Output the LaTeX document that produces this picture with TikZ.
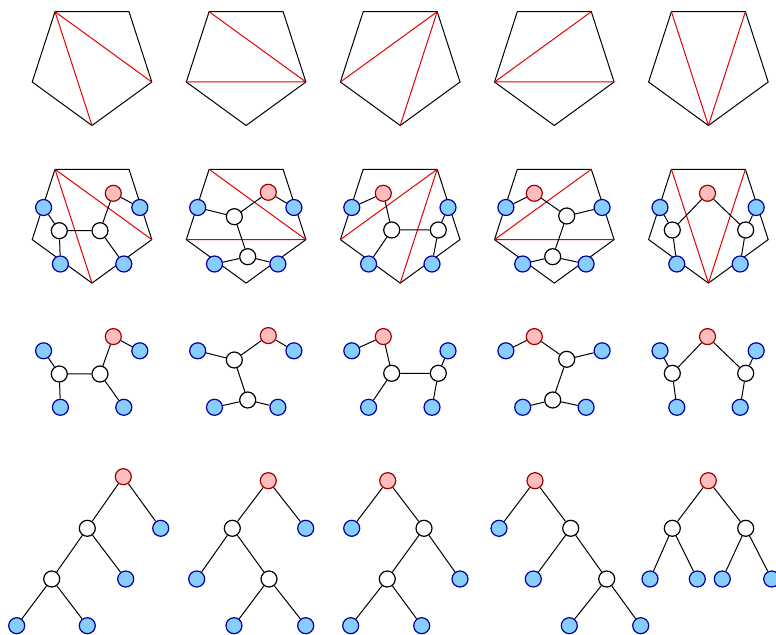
\documentclass[tikz,border=0pt]{standalone}
\usepackage{xcolor}
\usepackage{tikz}
\usetikzlibrary{shapes,arrows,positioning,calc}
\definecolor{leaffill}{RGB}{135,206,255}
\definecolor{leafline}{RGB}{0,0,160}
\definecolor{rootfill}{RGB}{255,190,190}
\definecolor{rootline}{RGB}{160,0,0}
\definecolor{diagline}{RGB}{225,0,0}

\tikzset{
  leafnode/.style={circle,draw=leafline,fill=leaffill,minimum size=8pt,inner sep=0pt,line width=0.6pt},
  rootnode/.style={circle,draw=rootline,fill=rootfill,minimum size=8pt,inner sep=0pt,line width=0.6pt},
  innode/.style={circle,draw=black,fill=white,minimum size=8pt,inner sep=0pt,line width=0.6pt},
  diag/.style={diagline,line width=0.5pt}
}

\begin{document}
\begin{tikzpicture}[x=0.5pt,y=-0.5pt,line width=0.5pt]
    \useasboundingbox (0,0) rectangle (776,635);

    % Pentagons in rows 1 and 2, corners counted clockwise from top left
    \foreach \r/\cy in {1/62.6, 2/220.2} {
        \foreach \c in {1,...,5} {
            \pgfmathsetmacro{\cx}{92+154.1*(\c-1)}
            \coordinate (v\r\c-0) at (\cx-37,\cy-50.9);
            \coordinate (v\r\c-1) at (\cx+37,\cy-50.9);
            \coordinate (v\r\c-2) at (\cx+59.8,\cy+19.4);
            \coordinate (v\r\c-3) at (\cx,\cy+62.9);
            \coordinate (v\r\c-4) at (\cx-59.8,\cy+19.4);
            \draw (v\r\c-0) -- (v\r\c-1) -- (v\r\c-2) -- (v\r\c-3) -- (v\r\c-4) -- cycle;
        }
    }

    % The five triangulations (two diagonals each)
    \foreach \r in {1,2} {
        \foreach \c/\a/\b/\d/\e in {1/0/2/0/3, 2/0/2/2/4, 3/1/4/1/3, 4/1/4/2/4, 5/0/3/1/3}
            \draw[diag] (v\r\c-\a) -- (v\r\c-\b) (v\r\c-\d) -- (v\r\c-\e);
    }

    % Dual trees: inside the pentagons (row 2) and alone (row 3)
    \foreach \dy/\p in {0/up, 143.3/lo} {
        \begin{scope}[shift={(0,\dy)},name prefix=\p-]
            % leaves on the four outer sides
            \foreach \c in {1,...,5} {
                \pgfmathsetmacro{\cx}{92+154.1*(\c-1)}
                \node[leafnode] (lf\c-a) at (\cx-48.4,207.5) {};
                \node[leafnode] (lf\c-b) at (\cx+47.8,207.5) {};
                \node[leafnode] (lf\c-c) at (\cx-31.6,264) {};
                \node[leafnode] (lf\c-d) at (\cx+31.8,264) {};
            }
            % root and the two inner triangles
            \foreach \c/\rx/\ry/\ax/\ay/\bx/\by in {1/113.3/193.3/59.3/230.7/100/230.7,
                    2/268.3/192.3/234.3/216.7/247.7/256.7, 3/383.3/193.3/391.7/230/438.3/230,
                    4/534.3/193.3/566.7/216/552.7/256.7, 5/707.5/193.3/672.3/230/745.7/230} {
                \node[rootnode] (rt\c) at (\rx,\ry) {};
                \node[innode] (in\c-a) at (\ax,\ay) {};
                \node[innode] (in\c-b) at (\bx,\by) {};
            }
            \draw (rt1) -- (lf1-b) (rt1) -- (in1-b) (in1-b) -- (in1-a) (in1-b) -- (lf1-d) (in1-a) -- (lf1-a) (in1-a) -- (lf1-c);
            \draw (rt2) -- (lf2-b) (rt2) -- (in2-a) (in2-a) -- (lf2-a) (in2-a) -- (in2-b) (in2-b) -- (lf2-c) (in2-b) -- (lf2-d);
            \draw (rt3) -- (lf3-a) (rt3) -- (in3-a) (in3-a) -- (lf3-c) (in3-a) -- (in3-b) (in3-b) -- (lf3-b) (in3-b) -- (lf3-d);
            \draw (rt4) -- (lf4-a) (rt4) -- (in4-a) (in4-a) -- (lf4-b) (in4-a) -- (in4-b) (in4-b) -- (lf4-c) (in4-b) -- (lf4-d);
            \draw (rt5) -- (in5-a) (rt5) -- (in5-b) (in5-a) -- (lf5-a) (in5-a) -- (lf5-c) (in5-b) -- (lf5-b) (in5-b) -- (lf5-d);
        \end{scope}
    }

    % Binary trees in row 4 (levels at y = 528.3, 579, 625.7)
    \foreach \c/\ry/\rx/\ax/\px/\bx/\qx/\sx/\tx in {1/476.7/123.3/87.3/160.7/51.7/125.7/16.7/87.3,
            2/480.7/268.3/232.3/305.7/269/196.7/234/305.7, 3/480.7/387.7/424/351.7/387.3/460/350.7/421.7,
            4/480.7/535/570.7/499/606.7/533.3/569.3/640.7} {
        \node[rootnode] (bt\c-r) at (\rx,\ry) {};
        \node[innode] (bt\c-a) at (\ax,528.3) {};
        \node[leafnode] (bt\c-p) at (\px,528.3) {};
        \node[innode] (bt\c-b) at (\bx,579) {};
        \node[leafnode] (bt\c-q) at (\qx,579) {};
        \node[leafnode] (bt\c-s) at (\sx,625.7) {};
        \node[leafnode] (bt\c-t) at (\tx,625.7) {};
        \draw (bt\c-r) -- (bt\c-a) (bt\c-r) -- (bt\c-p) (bt\c-a) -- (bt\c-b) (bt\c-a) -- (bt\c-q)
              (bt\c-b) -- (bt\c-s) (bt\c-b) -- (bt\c-t);
    }
    % balanced tree
    \node[rootnode] (bt5-r) at (708.3,480.7) {};
    \node[innode] (bt5-a) at (672.3,528.3) {};
    \node[innode] (bt5-b) at (745.7,528.3) {};
    \node[leafnode] (bt5-p) at (650,579) {};
    \node[leafnode] (bt5-q) at (697.3,579) {};
    \node[leafnode] (bt5-s) at (722.3,579) {};
    \node[leafnode] (bt5-t) at (771.7,579) {};
    \draw (bt5-r) -- (bt5-a) (bt5-r) -- (bt5-b) (bt5-a) -- (bt5-p) (bt5-a) -- (bt5-q)
          (bt5-b) -- (bt5-s) (bt5-b) -- (bt5-t);

\end{tikzpicture}
\end{document}
